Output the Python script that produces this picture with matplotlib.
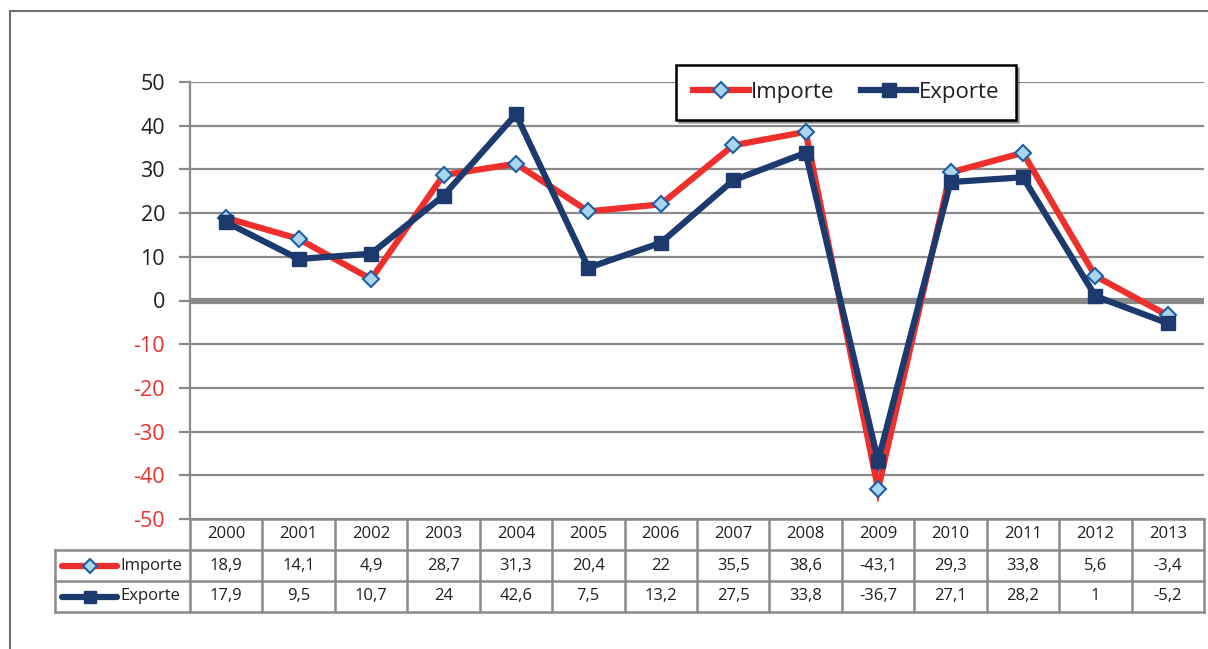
import matplotlib.pyplot as plt
from matplotlib.lines import Line2D
import numpy as np

plt.rcParams['font.family'] = ['Open Sans', 'DejaVu Sans']

years = ['2000', '2001', '2002', '2003', '2004', '2005', '2006',
         '2007', '2008', '2009', '2010', '2011', '2012', '2013']
importe = [18.9, 14.1, 4.9, 28.7, 31.3, 20.4, 22, 35.5, 38.6, -43.1, 29.3, 33.8, 5.6, -3.4]
exporte = [17.9, 9.5, 10.7, 24, 42.6, 7.5, 13.2, 27.5, 33.8, -36.7, 27.1, 28.2, 1, -5.2]
importe_lbl = ['18,9', '14,1', '4,9', '28,7', '31,3', '20,4', '22', '35,5', '38,6',
               '-43,1', '29,3', '33,8', '5,6', '-3,4']
exporte_lbl = ['17,9', '9,5', '10,7', '24', '42,6', '7,5', '13,2', '27,5', '33,8',
               '-36,7', '27,1', '28,2', '1', '-5,2']
yticks = [50, 40, 30, 20, 10, 0, -10, -20, -30, -40, -50]

RED = '#ee2f2c'
NAVY = '#1c3a6e'
DFACE = '#a9d5ef'
DEDGE = '#1f5fa0'
GRID = '#8a8a8c'
TXT = '#231f20'

W, H = 1208, 649
fig = plt.figure(figsize=(W / 100, H / 100), dpi=100)

def fx(px):
    return px / W

def fy(py):
    return 1 - py / H

# outer frame (left and top edges visible)
fig.add_artist(Line2D([fx(10), fx(10)], [fy(11), 0], color='#6d6d6f', lw=1.5))
fig.add_artist(Line2D([fx(10), 1], [fy(11), fy(11)], color='#6d6d6f', lw=1.5))

x0, x1 = 190, 1204
ytop, ybot = 82, 519
ax = fig.add_axes([fx(x0), fy(ybot), fx(x1 - x0), (ybot - ytop) / H])
x = np.arange(len(years))
ax.set_xlim(-0.5, len(years) - 0.5)
ax.set_ylim(-50, 50)

for v in yticks:
    if v == 0:
        ax.axhline(v, color=GRID, lw=4.5, zorder=1)
    else:
        ax.axhline(v, color=GRID, lw=1.6, zorder=1)

ax.plot(x, importe, color=RED, lw=4.5, marker='D', ms=8.5, mfc=DFACE, mec=DEDGE,
        mew=1.5, zorder=3, label='Importe', solid_joinstyle='miter')
ax.plot(x, exporte, color=NAVY, lw=4.5, marker='s', ms=10, mfc=NAVY, mec=NAVY,
        zorder=4, label='Exporte', solid_joinstyle='miter')

for s in ['top', 'right', 'bottom']:
    ax.spines[s].set_visible(False)
ax.spines['left'].set_color(GRID)
ax.spines['left'].set_linewidth(1.6)
ax.set_xticks([])
ax.set_yticks(yticks)
ax.set_yticklabels([str(v) for v in yticks], fontsize=15.5)
for lbl, v in zip(ax.get_yticklabels(), yticks):
    lbl.set_color(RED if v < 0 else TXT)
ax.tick_params(axis='y', length=8, width=1.6, color=GRID, pad=10)

leg = ax.legend(loc='center', bbox_to_anchor=(fx(846), fy(92.5)),
                bbox_transform=fig.transFigure, ncol=2, fontsize=16,
                frameon=True, fancybox=False, shadow=True, framealpha=1,
                edgecolor='black', handlelength=2.5, handletextpad=0.1,
                columnspacing=1.2, borderpad=0.75)
leg.get_frame().set_linewidth(1.8)
for t in leg.get_texts():
    t.set_color(TXT)

# data table below the plot
tl = 55
unit = (x1 - x0) / len(years)
xl = -0.5 - (x0 - tl) / unit
tab = fig.add_axes([fx(tl), fy(612), fx(x1 - tl), (612 - 519) / H])
tab.set_xlim(xl, len(years) - 0.5)
tab.set_ylim(3, 0)
tab.axis('off')

lc = dict(color=GRID, lw=1.8, clip_on=False)
edges = np.arange(len(years) + 1) - 0.5
for e in edges:
    tab.plot([e, e], [0, 3], **lc)
tab.plot([xl, xl], [1, 3], **lc)
tab.plot([-0.5, len(years) - 0.5], [0, 0], **lc)
for r in [1, 2, 3]:
    tab.plot([xl, len(years) - 0.5], [r, r], **lc)

for i in range(len(years)):
    tab.text(i, 0.5, years[i], ha='center', va='center', fontsize=12, color=TXT)
    tab.text(i, 1.5, importe_lbl[i], ha='center', va='center', fontsize=12, color=TXT)
    tab.text(i, 2.5, exporte_lbl[i], ha='center', va='center', fontsize=12, color=TXT)

hx0 = xl + 7 / unit
hx1 = xl + 62 / unit
tab.plot([hx0, hx1], [1.5, 1.5], color=RED, lw=4.5, solid_capstyle='round', clip_on=False)
tab.plot([(hx0 + hx1) / 2], [1.5], marker='D', ms=7.5, mfc=DFACE, mec=DEDGE, mew=1.5)
tab.plot([hx0, hx1], [2.5, 2.5], color=NAVY, lw=4.5, solid_capstyle='round', clip_on=False)
tab.plot([(hx0 + hx1) / 2], [2.5], marker='s', ms=9, mfc=NAVY, mec=NAVY)
tab.text(hx1 + 3 / unit, 1.5, 'Importe', ha='left', va='center', fontsize=12, color=TXT)
tab.text(hx1 + 3 / unit, 2.5, 'Exporte', ha='left', va='center', fontsize=12, color=TXT)

fig.savefig('out.png', dpi=100)
